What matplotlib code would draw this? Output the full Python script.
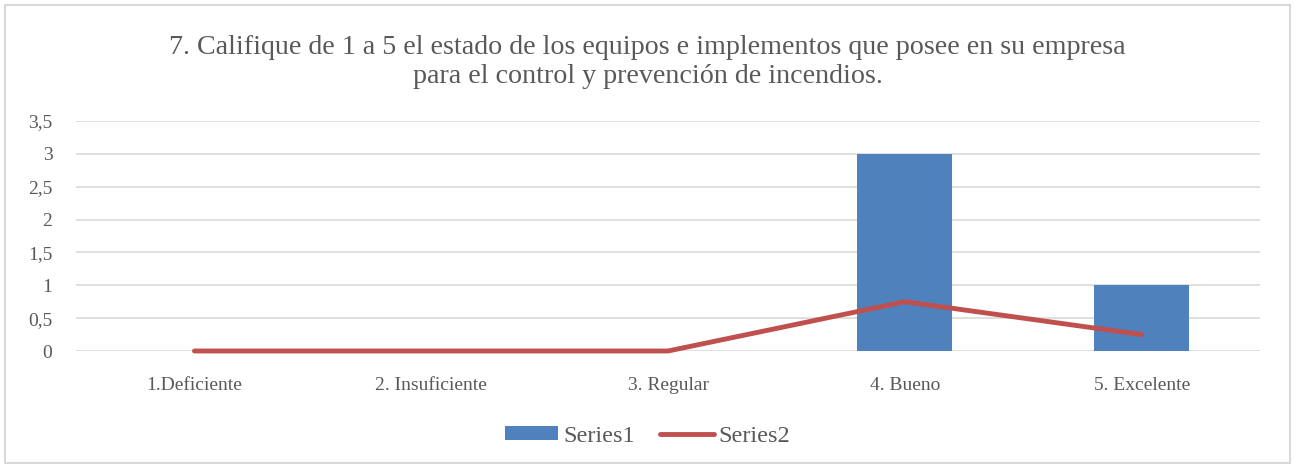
import matplotlib.pyplot as plt
import numpy as np
from matplotlib.patches import Rectangle

categories = ["1.Deficiente", "2. Insuficiente", "3. Regular", "4. Bueno", "5. Excelente"]
series1 = [0, 0, 0, 3, 1]
series2 = [0, 0, 0, 0.75, 0.25]
yticks = [0, 0.5, 1, 1.5, 2, 2.5, 3, 3.5]
ytick_labels = ["0", "0,5", "1", "1,5", "2", "2,5", "3", "3,5"]
title = ("7. Califique de 1 a 5 el estado de los equipos e implementos que posee en su empresa\n"
         "para el control y prevención de incendios.")

font = "Liberation Serif"
text_color = "#595959"
blue = "#4F81BD"
red = "#C0504D"

fig = plt.figure(figsize=(12.95, 4.68), dpi=100)
fig.patches.append(Rectangle((5 / 1295, 5 / 468), 1285 / 1295, 458 / 468, transform=fig.transFigure,
                             fill=False, edgecolor="#D9D9D9", linewidth=1.5))

ax = fig.add_axes([0.0587, 0.25, 0.9143, 0.4915])
x = np.arange(len(categories))
bars = ax.bar(x, series1, width=0.4, color=blue, label="Series1", zorder=2)
line, = ax.plot(x, series2, color=red, linewidth=3.5, solid_capstyle="round", label="Series2",
                zorder=3, clip_on=False)

ax.set_xlim(-0.5, len(categories) - 0.5)
ax.set_ylim(0, 3.5)
ax.set_yticks(yticks)
ax.set_yticklabels(ytick_labels, fontsize=14, fontname=font, color=text_color)
ax.set_xticks(x)
ax.set_xticklabels(categories, fontsize=14, fontname=font, color=text_color)
ax.tick_params(axis="both", length=0)
ax.tick_params(axis="y", pad=17)
ax.tick_params(axis="x", pad=19)
ax.grid(axis="y", color="#D9D9D9", linewidth=1.2, zorder=0)
ax.set_axisbelow(True)
for spine in ax.spines.values():
    spine.set_visible(False)

fig.text(0.5, 0.868, title, ha="center", va="center", fontsize=20.2, fontname=font,
         color=text_color, linespacing=1.2)

leg = fig.legend(handles=[bars, line], loc="center", bbox_to_anchor=(0.5, 0.068), ncol=2,
                 frameon=False, prop={"family": font, "size": 17.5}, handlelength=2.2,
                 handleheight=0.5, columnspacing=1.05, handletextpad=0.2)
for t in leg.get_texts():
    t.set_color(text_color)

fig.savefig("out.png", dpi=100)
